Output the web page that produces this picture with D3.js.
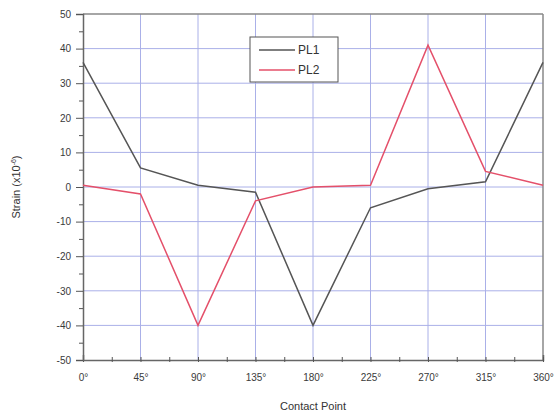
<!DOCTYPE html>
<html>
<head>
<meta charset="utf-8">
<script src="https://cdn.jsdelivr.net/npm/d3@7"></script>
<style>
body { margin: 0; background: #fff; }
text { font-family: "Liberation Sans", Arial, sans-serif; }
</style>
</head>
<body>
<div id="chart"></div>
<script>
var angles = [0, 45, 90, 135, 180, 225, 270, 315, 360];
var pl1 = [36, 5.5, 0.5, -1.5, -40, -6, -0.5, 1.5, 36];
var pl2 = [0.5, -2, -40, -4, 0, 0.5, 41, 4.5, 0.5];
var yTicks = [-50, -40, -30, -20, -10, 0, 10, 20, 30, 40, 50];

var svg = d3.select("#chart").append("svg")
    .attr("width", 556).attr("height", 417);

var x = d3.scaleLinear().domain([0, 360]).range([83, 543]);
var y = d3.scaleLinear().domain([-50, 50]).range([360, 14]);

// grid
svg.append("g").selectAll("line").data(angles.slice(1, -1)).enter().append("line")
    .attr("x1", function(d){ return x(d); }).attr("x2", function(d){ return x(d); })
    .attr("y1", y(50)).attr("y2", y(-50))
    .attr("stroke", "#aab0e8").attr("stroke-width", 1);
svg.append("g").selectAll("line").data(yTicks.slice(1, -1)).enter().append("line")
    .attr("x1", x(0)).attr("x2", x(360))
    .attr("y1", function(d){ return y(d); }).attr("y2", function(d){ return y(d); })
    .attr("stroke", "#aab0e8").attr("stroke-width", 1);

// frame top/right
svg.append("line").attr("x1", x(0)).attr("x2", x(360)).attr("y1", y(50)).attr("y2", y(50))
    .attr("stroke", "#888").attr("stroke-width", 1.5);
svg.append("line").attr("x1", x(360)).attr("x2", x(360)).attr("y1", y(50)).attr("y2", y(-50))
    .attr("stroke", "#888").attr("stroke-width", 1.5);

// axes
var xAxis = d3.axisBottom(x).tickValues(d3.range(0, 361, 22.5))
    .tickSize(-5).tickFormat(function(d){ return d % 45 === 0 ? d + "\u00b0" : ""; });
var gx = svg.append("g").attr("transform", "translate(0," + y(-50) + ")").call(xAxis);
gx.selectAll("line").attr("transform", "translate(0,2)").attr("stroke", "#555");
gx.selectAll("text").attr("dy", "1.8em").attr("font-size", 10).attr("fill", "#3a3a3a");

var yAxis = d3.axisLeft(y).tickValues(d3.range(-50, 51, 5))
    .tickSize(7).tickPadding(5).tickFormat(function(d){ return d % 10 === 0 ? d : ""; });
var gy = svg.append("g").attr("transform", "translate(" + x(0) + ",0)").call(yAxis);
gy.selectAll(".tick line").attr("stroke", "#555")
    .attr("x2", function(d){ return d % 10 === 0 ? -7 : -4; });
gy.selectAll("text").attr("font-size", 10).attr("fill", "#3a3a3a");
svg.selectAll(".domain").attr("stroke", "#666").attr("stroke-width", 1.5);

// lines
var line = d3.line()
    .x(function(d, i){ return x(angles[i]); })
    .y(function(d){ return y(d); });
svg.append("path").datum(pl1).attr("d", line)
    .attr("fill", "none").attr("stroke", "#555").attr("stroke-width", 1.5);
svg.append("path").datum(pl2).attr("d", line)
    .attr("fill", "none").attr("stroke", "#e4506a").attr("stroke-width", 1.5);

// legend
var lg = svg.append("g").attr("transform", "translate(250,37)");
lg.append("rect").attr("width", 88).attr("height", 45)
    .attr("fill", "#fff").attr("stroke", "#555").attr("stroke-width", 1);
lg.append("line").attr("x1", 9).attr("x2", 45).attr("y1", 13).attr("y2", 13)
    .attr("stroke", "#555").attr("stroke-width", 1.3);
lg.append("line").attr("x1", 9).attr("x2", 45).attr("y1", 33).attr("y2", 33)
    .attr("stroke", "#e4506a").attr("stroke-width", 1.3);
lg.append("text").attr("x", 48).attr("y", 17).text("PL1").attr("font-size", 12).attr("fill", "#333");
lg.append("text").attr("x", 48).attr("y", 37).text("PL2").attr("font-size", 12).attr("fill", "#333");

// titles
svg.append("text").attr("x", 313).attr("y", 410).attr("text-anchor", "middle")
    .attr("font-size", 11).attr("fill", "#333").text("Contact Point");
var yt = svg.append("text").attr("transform", "translate(20,187) rotate(-90)")
    .attr("text-anchor", "middle").attr("font-size", 11).attr("fill", "#333");
yt.append("tspan").text("Strain (x10");
yt.append("tspan").attr("dy", -4).attr("font-size", 7).text("-6");
yt.append("tspan").attr("dy", 4).text(")");
</script>
</body>
</html>
